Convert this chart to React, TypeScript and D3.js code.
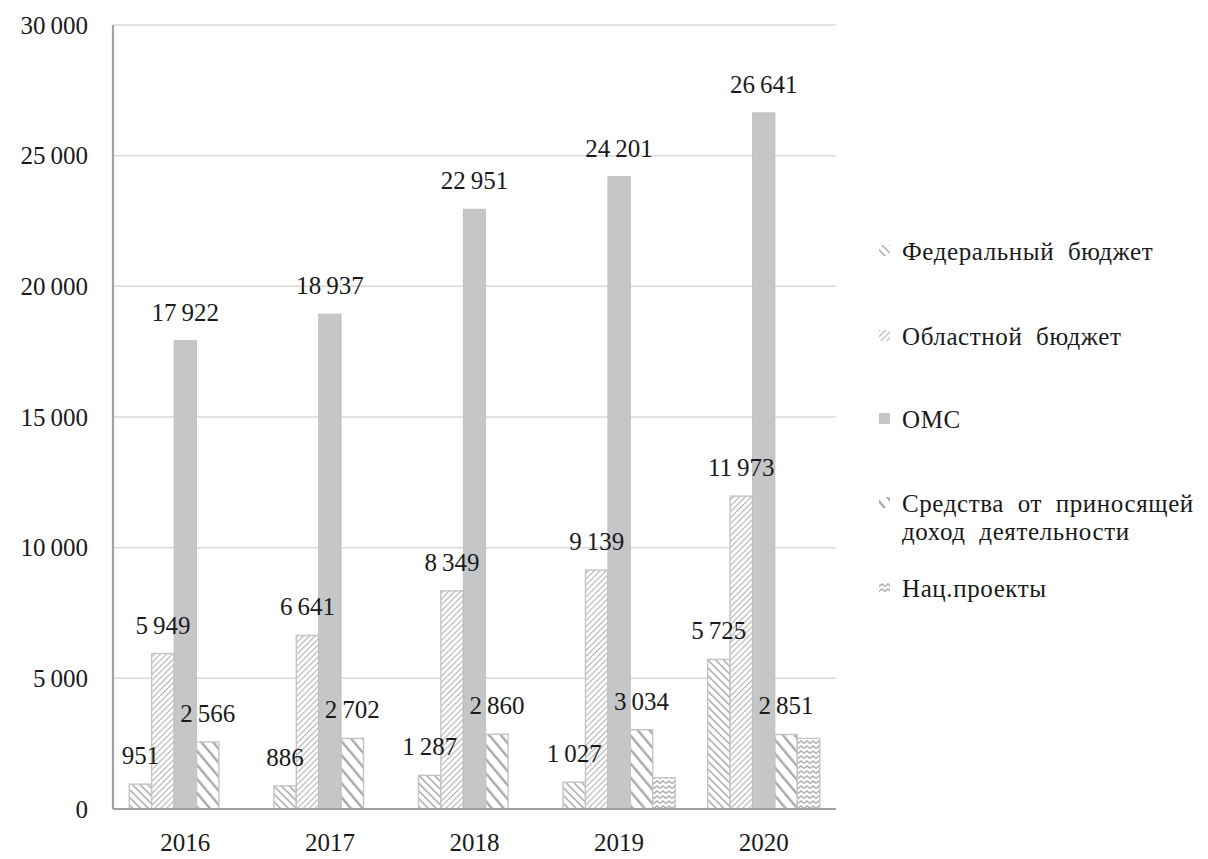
import React from 'react';
import * as d3 from 'd3';

const years = ['2016', '2017', '2018', '2019', '2020'];
const seriesNames = [
  'Федеральный бюджет',
  'Областной бюджет',
  'ОМС',
  'Средства от приносящей доход деятельности',
  'Нац.проекты',
];
const federal = [951, 886, 1287, 1027, 5725];
const regional = [5949, 6641, 8349, 9139, 11973];
const oms = [17922, 18937, 22951, 24201, 26641];
const income = [2566, 2702, 2860, 3034, 2851];
const natProjects = [0, 0, 0, 1200, 2700];
const labelled = [true, true, true, true, false];
const yTicks = [0, 5000, 10000, 15000, 20000, 25000, 30000];
const legendLines = [
  ['Федеральный  бюджет'],
  ['Областной  бюджет'],
  ['ОМС'],
  ['Средства  от  приносящей', 'доход  деятельности'],
  ['Нац.проекты'],
];

const allSeries = [federal, regional, oms, income, natProjects];
const fills = ['url(#pFed)', 'url(#pReg)', '#c5c6c8', 'url(#pInc)', 'url(#pNat)'];

const W = 1208;
const H = 859;
const left = 113;
const right = 836;
const top = 25;
const bottom = 809;
const font = 'Liberation Serif, DejaVu Serif, serif';
const fmt = (v: number) => d3.format(',')(v).replace(/,/g, '\u2009');

export default function App() {
  const x = d3.scaleBand().domain(years).range([left, right]).paddingInner(0.225).paddingOuter(0.1125);
  const xs = d3.scaleBand().domain(seriesNames).range([0, x.bandwidth()]);
  const y = d3.scaleLinear().domain([0, 30000]).range([bottom, top]);

  const legendY = [251, 336, 419, 503, 588];

  return (
    <svg width={W} height={H} style={{ position: 'absolute', left: 0, top: 0, background: '#fff' }}>
      <defs>
        <pattern id="pFed" width="5.5" height="5.5" patternUnits="userSpaceOnUse" patternTransform="rotate(-45)">
          <rect width="5.5" height="5.5" fill="#fff" />
          <line x1="0" y1="0" x2="0" y2="5.5" stroke="#a9a9a9" strokeWidth="3" />
        </pattern>
        <pattern id="pReg" width="4.2" height="4.2" patternUnits="userSpaceOnUse" patternTransform="rotate(45)">
          <rect width="4.2" height="4.2" fill="#fff" />
          <line x1="0" y1="0" x2="0" y2="4.2" stroke="#b3b3b3" strokeWidth="2.2" />
        </pattern>
        <pattern id="pInc" width="9" height="9" patternUnits="userSpaceOnUse" patternTransform="rotate(-40)">
          <rect width="9" height="9" fill="#fff" />
          <line x1="0" y1="0" x2="0" y2="9" stroke="#a9a9a9" strokeWidth="4.8" />
        </pattern>
        <pattern id="pNat" width="6" height="5" patternUnits="userSpaceOnUse">
          <rect width="6" height="5" fill="#fff" />
          <path d="M0,3.5 L3,1 L6,3.5" fill="none" stroke="#b0b0b0" strokeWidth="1.6" />
        </pattern>
      </defs>

      {yTicks.slice(1).map(t => (
        <line key={t} x1={left} x2={right} y1={y(t)} y2={y(t)} stroke="#d9d9d9" strokeWidth={1.5} />
      ))}

      {allSeries.map((vals, si) =>
        years.map((yr, i) => {
          const v = vals[i];
          if (!v) return null;
          const bx = (x(yr) || 0) + (xs(seriesNames[si]) || 0);
          return (
            <rect
              key={`${si}-${yr}`}
              x={bx}
              y={y(v)}
              width={xs.bandwidth()}
              height={bottom - y(v)}
              fill={fills[si]}
              stroke={si === 2 ? '#b9babc' : '#c4c4c4'}
              strokeWidth={si === 2 ? 0.8 : 1.4}
            />
          );
        })
      )}

      {allSeries.map((vals, si) =>
        labelled[si]
          ? years.map((yr, i) => {
              const v = vals[i];
              const cx = (x(yr) || 0) + (xs(seriesNames[si]) || 0) + xs.bandwidth() / 2;
              return (
                <text
                  key={`l${si}-${yr}`}
                  x={cx}
                  y={y(v) - 20}
                  textAnchor="middle"
                  fontFamily={font}
                  fontSize={25}
                  fill="#1a1a1a"
                >
                  {fmt(v)}
                </text>
              );
            })
          : null
      )}

      <line x1={left} x2={left} y1={top} y2={bottom} stroke="#a0a1a5" strokeWidth={2.2} />
      <line x1={left} x2={right} y1={bottom} y2={bottom} stroke="#a0a1a5" strokeWidth={2.2} />

      {yTicks.map(t => (
        <text
          key={`t${t}`}
          x={88}
          y={y(t)}
          dy="0.35em"
          textAnchor="end"
          fontFamily={font}
          fontSize={25}
          fill="#1a1a1a"
        >
          {fmt(t)}
        </text>
      ))}

      {years.map(yr => (
        <text
          key={`x${yr}`}
          x={(x(yr) || 0) + x.bandwidth() / 2}
          y={851}
          textAnchor="middle"
          fontFamily={font}
          fontSize={25}
          fill="#1a1a1a"
        >
          {yr}
        </text>
      ))}

      {seriesNames.map((name, si) => (
        <g key={`lg${si}`} transform={`translate(879,${legendY[si]})`}>
          <rect x={0} y={-6} width={11} height={11} fill={fills[si]} />
          {legendLines[si].map((ln, li) => (
            <text
              key={li}
              x={23}
              y={li * 28}
              dy="0.35em"
              fontFamily={font}
              fontSize={25}
              letterSpacing={0.6}
              fill="#1a1a1a"
              style={{ whiteSpace: 'pre' }}
            >
              {ln}
            </text>
          ))}
        </g>
      ))}
    </svg>
  );
}
